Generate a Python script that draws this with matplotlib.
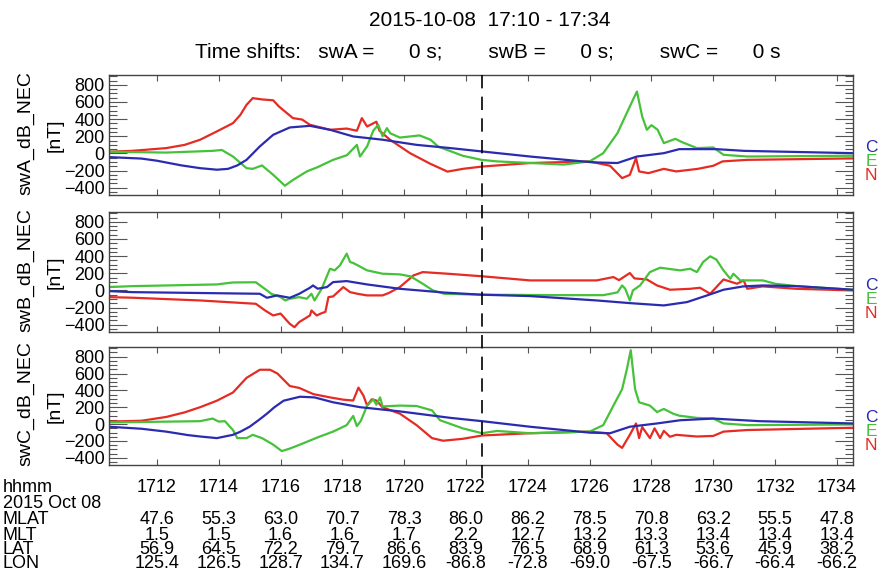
import matplotlib
matplotlib.use('Agg')
import matplotlib.pyplot as plt
from matplotlib.ticker import MultipleLocator, FixedLocator
from matplotlib.lines import Line2D
import matplotlib.transforms as mtrans

plt.rcParams['font.family'] = ['Liberation Sans', 'DejaVu Sans']

# ---------------- data (time in minutes after 17:10 UT, dB in nT) ----------------
title_line1 = "2015-10-08  17:10 - 17:34"
title_line2 = "Time shifts:   swA =      0 s;        swB =      0 s;        swC =      0 s"
panel_names = ["swA_dB_NEC", "swB_dB_NEC", "swC_dB_NEC"]
component_labels = ["C", "E", "N"]

x_limits = (0.45, 24.52)
y_limits = (-485, 915)
marker_time = 12.52

# swA
swA_N_t = [0.45, 1.2, 2.3, 2.9, 3.4, 3.94, 4.46, 4.7, 4.9, 5.1, 5.4, 5.76, 5.95, 6.4, 6.7, 6.95, 7.6, 8.14, 8.47, 8.63, 8.8, 9.1, 9.2, 9.54, 10.19, 10.84, 11.4, 11.9, 12.52, 14.07, 16.0, 16.66, 17.05, 17.3, 17.5, 17.6, 17.9, 18.4, 18.8, 19.5, 20.0, 20.3, 21.1, 24.52]
swA_N = [20, 30, 62, 100, 160, 257, 353, 450, 567, 645, 630, 620, 547, 412, 395, 334, 276, 290, 265, 412, 314, 370, 265, 160, 3, -120, -212, -180, -153, -112, -93, -144, -288, -250, -54, -210, -230, -180, -210, -180, -144, -93, -75, -58]
swA_E_t = [0.45, 2.3, 3.8, 4.1, 4.46, 4.9, 5.1, 5.4, 5.76, 6.14, 6.4, 6.85, 7.2, 7.7, 8.15, 8.47, 8.57, 8.8, 9.0, 9.16, 9.3, 9.44, 9.55, 9.86, 10.5, 10.85, 11.1, 11.9, 12.5, 13.0, 14.0, 15.15, 16.0, 16.44, 16.9, 17.2, 17.4, 17.53, 17.7, 17.85, 18.0, 18.2, 18.4, 18.77, 19.0, 19.47, 20.0, 20.33, 21.1, 24.52]
swA_E = [20, 10, 30, 40, -36, -172, -180, -140, -249, -377, -310, -210, -160, -75, -20, 100, -36, 82, 265, 334, 200, 295, 235, 185, 210, 160, 80, -28, -75, -93, -110, -130, -93, 3, 237, 470, 625, 722, 431, 276, 330, 276, 120, 170, 130, 62, 70, -16, -36, -27]
swA_C_t = [0.45, 1.5, 2.0, 2.8, 3.4, 3.94, 4.3, 4.6, 4.9, 5.33, 5.76, 6.3, 6.95, 7.6, 8.35, 9.3, 10.4, 11.5, 12.52, 14.07, 16.1, 16.9, 17.53, 18.4, 18.9, 20.1, 21.0, 24.52]
swA_C = [-43, -60, -85, -140, -172, -190, -180, -140, -75, 82, 217, 303, 322, 276, 198, 160, 100, 62, 23, -36, -104, -112, -36, 3, 50, 50, 30, 3]

# swB
swB_N_t = [0.45, 1.2, 3.4, 5.2, 5.5, 5.76, 6.0, 6.3, 6.45, 6.6, 6.95, 7.0, 7.17, 7.3, 7.45, 7.55, 7.7, 8.03, 8.25, 8.5, 8.8, 9.3, 9.5, 9.86, 10.3, 10.6, 11.4, 12.52, 14.07, 16.23, 16.77, 16.95, 17.3, 17.45, 17.85, 18.18, 18.6, 19.25, 19.57, 19.9, 20.33, 20.77, 20.98, 21.1, 21.6, 22.7, 24.52]
swB_N = [-78, -85, -117, -156, -234, -292, -270, -390, -429, -370, -292, -234, -292, -270, -250, -78, -70, 39, -20, -40, -58, -58, -30, 39, 175, 214, 195, 165, 117, 117, 156, 120, 203, 140, 128, 58, 8, 19, 31, -39, 128, 78, 117, 19, 47, 19, 0]
swB_E_t = [0.45, 1.2, 3.94, 4.46, 5.2, 5.56, 5.7, 6.0, 6.15, 6.3, 6.6, 6.85, 7.0, 7.1, 7.33, 7.6, 7.75, 7.92, 8.14, 8.25, 8.35, 8.5, 8.8, 9.3, 9.86, 10.2, 10.6, 10.93, 11.3, 12.52, 15.15, 16.44, 16.9, 17.05, 17.15, 17.3, 17.4, 17.63, 17.95, 18.28, 18.93, 19.25, 19.47, 19.67, 19.9, 20.1, 20.33, 20.55, 20.65, 20.87, 21.6, 22.0, 22.7, 24.52]
swB_E = [39, 50, 70, 93, 95, 0, -39, -78, -117, -97, -78, -97, -39, -117, 19, 253, 234, 292, 429, 331, 320, 292, 234, 195, 187, 165, 78, 0, -39, -50, -55, -55, -23, 58, 20, -117, 0, 58, 214, 265, 234, 253, 214, 331, 398, 360, 234, 136, 195, 117, 117, 78, 50, 8]
swB_C_t = [0.45, 1.2, 5.33, 5.56, 5.88, 6.3, 6.6, 6.95, 7.05, 7.2, 7.5, 7.7, 8.14, 8.8, 9.86, 11.3, 12.52, 14.07, 16.23, 17.3, 18.4, 19.15, 19.8, 20.33, 20.97, 21.6, 22.7, 24.52]
swB_C = [-8, -20, -39, -86, -58, -86, -40, 31, 58, 20, 39, 97, 109, 70, 19, -25, -50, -66, -117, -148, -175, -136, -58, 8, 47, 58, 50, 8]

# swC
swC_N_t = [0.45, 1.5, 2.3, 2.9, 3.4, 3.94, 4.46, 4.9, 5.33, 5.66, 5.9, 6.3, 6.6, 7.06, 7.6, 8.03, 8.35, 8.52, 8.68, 8.8, 8.95, 9.1, 9.3, 9.86, 10.4, 10.9, 11.26, 11.9, 12.52, 14.07, 16.0, 16.55, 16.9, 17.05, 17.3, 17.5, 17.6, 17.7, 17.95, 18.1, 18.28, 18.4, 18.6, 18.8, 19.47, 20.0, 20.33, 21.1, 24.52]
swC_N = [30, 40, 85, 140, 201, 278, 375, 549, 645, 645, 600, 452, 430, 356, 317, 290, 280, 433, 340, 220, 294, 280, 200, 124, -12, -166, -197, -174, -135, -108, -89, -108, -243, -282, -127, 8, -166, -35, -166, -50, -166, -80, -150, -127, -147, -140, -89, -70, -43]
swC_E_t = [0.45, 3.4, 3.8, 4.0, 4.2, 4.46, 4.6, 4.9, 5.1, 5.4, 5.76, 6.04, 6.3, 6.63, 7.27, 7.7, 8.14, 8.35, 8.47, 8.6, 8.8, 9.0, 9.1, 9.22, 9.3, 9.86, 10.4, 10.9, 11.16, 11.9, 12.52, 13.0, 14.07, 16.0, 16.44, 16.77, 17.05, 17.2, 17.33, 17.47, 17.6, 17.95, 18.18, 18.4, 18.7, 18.9, 19.47, 20.0, 20.33, 21.1, 24.52]
swC_E = [20, 35, 66, 30, 35, -70, -166, -166, -127, -166, -243, -320, -290, -243, -147, -89, -12, 97, -24, 40, 220, 294, 230, 317, 210, 220, 215, 163, 46, -51, -108, -81, -108, -89, -12, 220, 414, 645, 877, 414, 259, 220, 143, 180, 124, 100, 74, 66, 8, -12, -4]
swC_C_t = [0.45, 1.5, 2.3, 3.0, 3.4, 3.94, 4.46, 4.7, 5.0, 5.3, 5.56, 5.8, 6.1, 6.63, 7.1, 7.7, 8.57, 9.86, 11.5, 12.52, 14.07, 16.0, 16.66, 17.3, 18.18, 18.93, 20.0, 21.5, 24.52]
swC_C = [-31, -55, -89, -130, -147, -166, -127, -90, -31, 50, 124, 200, 278, 325, 317, 259, 201, 151, 74, 35, -31, -101, -108, -31, 8, 46, 66, 35, 8]

# ephemeris table
tick_times = [2, 4, 6, 8, 10, 12, 14, 16, 18, 20, 22, 24]
tick_labels = ["1712", "1714", "1716", "1718", "1720", "1722", "1724", "1726", "1728", "1730", "1732", "1734"]
MLAT = ["47.6", "55.3", "63.0", "70.7", "78.3", "86.0", "86.2", "78.5", "70.8", "63.2", "55.5", "47.8"]
MLT = ["1.5", "1.5", "1.6", "1.6", "1.7", "2.2", "12.7", "13.2", "13.3", "13.4", "13.4", "13.4"]
LAT = ["56.9", "64.5", "72.2", "79.7", "86.6", "83.9", "76.5", "68.9", "61.3", "53.6", "45.9", "38.2"]
LON = ["125.4", "126.5", "128.7", "134.7", "169.6", "-86.8", "-72.8", "-69.0", "-67.5", "-66.7", "-66.4", "-66.2"]
row_names = ["hhmm", "2015 Oct 08", "MLAT", "MLT", "LAT", "LON"]

# ---------------- styling ----------------
col_N = '#e52b24'
col_E = '#45c23a'
col_C = '#2b2bb0'
W, H = 879, 576
fig = plt.figure(figsize=(W / 100, H / 100), dpi=100)

def fy(py):
    return 1 - py / H

left_px, right_px = 109, 853
panel_px = [(75, 195), (212, 332), (347, 465)]

data = [
    ((swA_N_t, swA_N), (swA_E_t, swA_E), (swA_C_t, swA_C)),
    ((swB_N_t, swB_N), (swB_E_t, swB_E), (swB_C_t, swB_C)),
    ((swC_N_t, swC_N), (swC_E_t, swC_E), (swC_C_t, swC_C)),
]

axes = []
for i, (top, bot) in enumerate(panel_px):
    ax = fig.add_axes([left_px / W, fy(bot), (right_px - left_px) / W, (bot - top) / H])
    (nt, nv), (et, ev), (ct, cv) = data[i]
    ax.plot(nt, nv, color=col_N, lw=1.6)
    ax.plot(et, ev, color=col_E, lw=1.6)
    ax.plot(ct, cv, color=col_C, lw=1.6)
    ax.set_xlim(*x_limits)
    ax.set_ylim(*y_limits)
    ax.xaxis.set_major_locator(FixedLocator(tick_times))
    ax.yaxis.set_major_locator(FixedLocator([-400, -200, 0, 200, 400, 600, 800]))
    ax.yaxis.set_minor_locator(MultipleLocator(50))
    ax.tick_params(which='both', direction='in', top=True, right=True,
                   labelbottom=False, color='#555555', width=0.8)
    ax.tick_params(axis='x', which='major', length=4)
    ax.tick_params(axis='y', which='major', length=13, labelsize=13, pad=3)
    ax.tick_params(axis='y', which='minor', length=6)
    for s in ax.spines.values():
        s.set_color('#444444')
        s.set_linewidth(1.0)
    cy = (top + bot) / 2
    fig.text(26 / W, fy(cy - 2), panel_names[i], rotation=90, ha='center', va='center', fontsize=14)
    fig.text(55 / W, fy(cy), "[nT]", rotation=90, ha='center', va='center', fontsize=14)
    for lab, col, off in zip(component_labels, [col_C, col_E, col_N], [47, 33, 19]):
        fig.text(871 / W, fy(bot - off), lab, color=col, ha='center', va='center', fontsize=12.5)
    axes.append(ax)

# dashed vertical marker
tr = mtrans.blended_transform_factory(axes[0].transData, fig.transFigure)
fig.add_artist(Line2D([marker_time, marker_time], [fy(75), fy(485)], transform=tr,
                      color='black', lw=1.2, dashes=(8, 5)))

# titles
fig.text(490 / W, fy(20), title_line1, ha='center', va='center', fontsize=15)
fig.text(488 / W, fy(52), title_line2, ha='center', va='center', fontsize=15)

# table
row_y = [487, 503.5, 520, 535, 549.5, 564]
for name, y in zip(row_names, row_y):
    fig.text(3 / W, fy(y), name, ha='left', va='center', fontsize=13)
rows = [tick_labels, None, MLAT, MLT, LAT, LON]
for vals, y in zip(rows, row_y):
    if vals is None:
        continue
    for t, v in zip(tick_times, vals):
        fig.text(t, fy(y), v, transform=tr, ha='center', va='center', fontsize=13)

fig.savefig('out.png', dpi=100)
